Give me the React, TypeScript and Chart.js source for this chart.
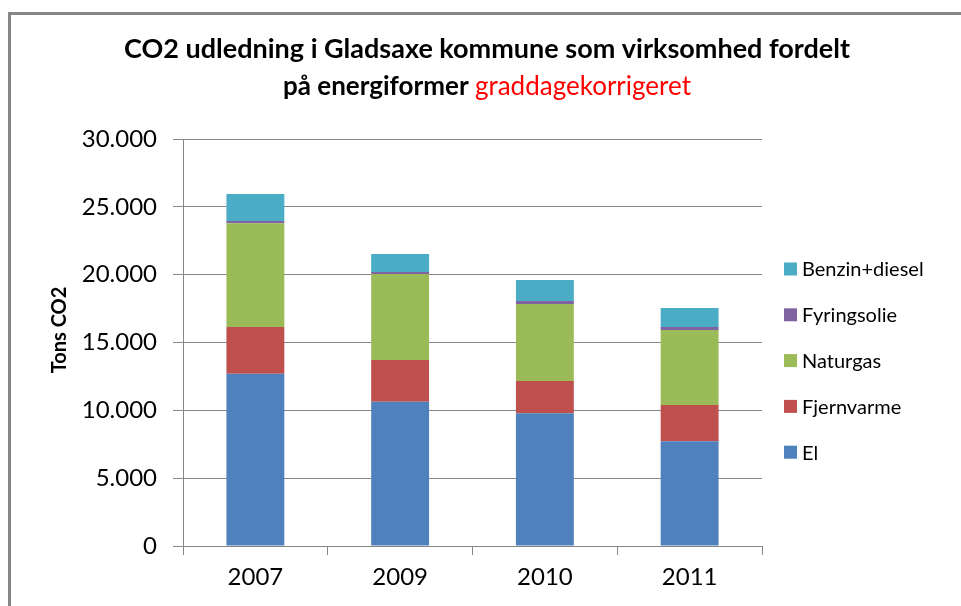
import { useEffect, useRef } from "react";
import { Chart, registerables } from "chart.js";

Chart.register(...registerables);

const categories = ["2007", "2009", "2010", "2011"];
const elValues = [12700, 10640, 9780, 7715];
const fjernvarmeValues = [3440, 3070, 2380, 2675];
const naturgasValues = [7650, 6340, 5680, 5530];
const fyringsolieValues = [165, 145, 220, 220];
const benzinDieselValues = [1990, 1325, 1545, 1400];

const seriesLabels = ["El", "Fjernvarme", "Naturgas", "Fyringsolie", "Benzin+diesel"];
const seriesColors = ["#4F81BD", "#C0504D", "#9BBB59", "#8064A2", "#4BACC6"];

const yMin = 0;
const yMax = 30000;
const yStep = 5000;

const titleLine1 = "CO2 udledning i Gladsaxe kommune som virksomhed fordelt";
const titleLine2Bold = "på energiformer ";
const titleLine2Red = "graddagekorrigeret";
const yAxisTitle = "Tons CO2";

const FONT = "Lato, 'Open Sans', sans-serif";
const GRAY = "#868686";

function formatThousands(v: number): string {
  return String(v).replace(/\B(?=(\d{3})+(?!\d))/g, ".");
}

const decorPlugin = {
  id: "decor",
  afterDraw(chart: any) {
    const ctx = chart.ctx as CanvasRenderingContext2D;
    ctx.save();

    // outer frame
    ctx.strokeStyle = GRAY;
    ctx.lineWidth = 3;
    ctx.beginPath();
    ctx.moveTo(9.5, chart.height + 5);
    ctx.lineTo(9.5, 13.5);
    ctx.lineTo(chart.width + 5, 13.5);
    ctx.stroke();

    // title
    const cx = 487;
    ctx.textBaseline = "alphabetic";
    ctx.fillStyle = "#000";
    ctx.font = `bold 27px ${FONT}`;
    ctx.textAlign = "center";
    ctx.fillText(titleLine1, cx, 58);
    ctx.textAlign = "left";
    const boldFont = `bold 26px ${FONT}`;
    const redFont = `26px ${FONT}`;
    ctx.font = boldFont;
    const w1 = ctx.measureText(titleLine2Bold).width;
    ctx.font = redFont;
    const w2 = ctx.measureText(titleLine2Red).width;
    const startX = cx - (w1 + w2) / 2;
    ctx.font = boldFont;
    ctx.fillStyle = "#000";
    ctx.fillText(titleLine2Bold, startX, 95);
    ctx.font = redFont;
    ctx.fillStyle = "#FF0000";
    ctx.fillText(titleLine2Red, startX + w1, 95);

    // y-axis title
    ctx.save();
    ctx.translate(60, 330);
    ctx.rotate(-Math.PI / 2);
    ctx.font = `bold 20px ${FONT}`;
    ctx.fillStyle = "#000";
    ctx.textAlign = "center";
    ctx.textBaseline = "middle";
    ctx.fillText(yAxisTitle, 0, 0);
    ctx.restore();

    // legend (reversed order, top = last dataset)
    const ds = chart.data.datasets;
    ctx.font = `20px ${FONT}`;
    ctx.textAlign = "left";
    ctx.textBaseline = "middle";
    for (let k = 0; k < ds.length; k++) {
      const d = ds[ds.length - 1 - k];
      const y = 269 + k * 45.8;
      ctx.fillStyle = d.backgroundColor;
      ctx.fillRect(784, y - 6.5, 13, 13);
      ctx.fillStyle = "#000";
      ctx.fillText(d.label, 802, y + 1);
    }

    ctx.restore();
  },
};

export default function App() {
  const canvasRef = useRef<HTMLCanvasElement | null>(null);

  useEffect(() => {
    document.body.style.margin = "0";
    const canvas = canvasRef.current;
    if (!canvas) return;
    const seriesValues = [elValues, fjernvarmeValues, naturgasValues, fyringsolieValues, benzinDieselValues];
    const chart = new Chart(canvas, {
      type: "bar",
      data: {
        labels: categories,
        datasets: seriesLabels.map((label, i) => ({
          label,
          data: seriesValues[i],
          backgroundColor: seriesColors[i],
          borderWidth: 0,
          barPercentage: 0.4,
          categoryPercentage: 1,
        })),
      },
      options: {
        animation: false,
        responsive: false,
        devicePixelRatio: 1,
        layout: { padding: { top: 139, right: 199, bottom: 0, left: 0 } },
        plugins: {
          legend: { display: false },
          title: { display: false },
          tooltip: { enabled: false },
        },
        scales: {
          x: {
            stacked: true,
            offset: true,
            grid: {
              display: true,
              drawOnChartArea: false,
              drawTicks: true,
              tickLength: 9,
              color: GRAY,
              offset: true,
            },
            border: { display: true, color: GRAY, width: 1 },
            ticks: {
              color: "#000",
              font: { family: FONT, size: 24 },
              padding: 8,
            },
            afterFit(scale: any) {
              scale.height = 60;
            },
          },
          y: {
            stacked: true,
            min: yMin,
            max: yMax,
            grid: {
              color: GRAY,
              tickLength: 10,
              drawTicks: true,
            },
            border: { display: true, color: GRAY, width: 1 },
            ticks: {
              stepSize: yStep,
              color: "#000",
              font: { family: FONT, size: 24 },
              padding: 16,
              callback: (v: any) => formatThousands(Number(v)),
            },
            afterFit(scale: any) {
              scale.width = 183;
            },
          },
        },
      },
      plugins: [decorPlugin],
    });
    return () => chart.destroy();
  }, []);

  return (
    <div style={{ width: 961, height: 606 }}>
      <canvas ref={canvasRef} width={961} height={606} style={{ display: "block" }} />
    </div>
  );
}
